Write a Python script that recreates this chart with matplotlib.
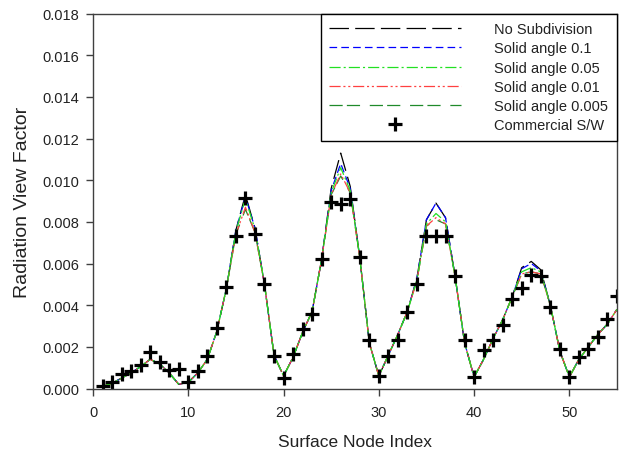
import matplotlib
matplotlib.use("Agg")
import matplotlib.pyplot as plt
from matplotlib.ticker import FormatStrFormatter, MultipleLocator

plt.rcParams['font.family'] = ['Liberation Sans', 'DejaVu Sans']
plt.rcParams['lines.scale_dashes'] = False

nodes = list(range(1, 56))

no_sub = [0.00010, 0.00025, 0.00050, 0.00075, 0.00105, 0.00140, 0.00118, 0.00075, 0.00020, 0.00030,
          0.00075, 0.00140, 0.00275, 0.00480, 0.00760, 0.00930, 0.00770, 0.00500, 0.00160, 0.00060,
          0.00150, 0.00270, 0.00370, 0.00620, 0.00960, 0.01130, 0.00970, 0.00630, 0.00220, 0.00060,
          0.00160, 0.00260, 0.00370, 0.00530, 0.00810, 0.00890, 0.00820, 0.00540, 0.00220, 0.00055,
          0.00140, 0.00240, 0.00330, 0.00440, 0.00580, 0.00610, 0.00570, 0.00400, 0.00180, 0.00055,
          0.00140, 0.00200, 0.00260, 0.00310, 0.00380]
sa_01 = [0.00010, 0.00025, 0.00050, 0.00075, 0.00105, 0.00140, 0.00118, 0.00075, 0.00020, 0.00030,
         0.00075, 0.00140, 0.00275, 0.00480, 0.00760, 0.00920, 0.00770, 0.00500, 0.00160, 0.00060,
         0.00150, 0.00270, 0.00370, 0.00620, 0.00950, 0.01080, 0.00960, 0.00630, 0.00220, 0.00060,
         0.00160, 0.00260, 0.00370, 0.00530, 0.00810, 0.00890, 0.00820, 0.00540, 0.00220, 0.00055,
         0.00140, 0.00240, 0.00330, 0.00440, 0.00575, 0.00600, 0.00565, 0.00400, 0.00180, 0.00055,
         0.00140, 0.00200, 0.00260, 0.00310, 0.00380]
sa_005 = [0.00010, 0.00025, 0.00050, 0.00075, 0.00105, 0.00140, 0.00118, 0.00075, 0.00020, 0.00030,
          0.00075, 0.00140, 0.00275, 0.00480, 0.00755, 0.00910, 0.00765, 0.00500, 0.00160, 0.00060,
          0.00150, 0.00270, 0.00370, 0.00620, 0.00940, 0.01060, 0.00950, 0.00630, 0.00220, 0.00060,
          0.00160, 0.00260, 0.00370, 0.00520, 0.00790, 0.00840, 0.00800, 0.00540, 0.00220, 0.00055,
          0.00140, 0.00240, 0.00330, 0.00440, 0.00560, 0.00580, 0.00560, 0.00400, 0.00180, 0.00055,
          0.00140, 0.00200, 0.00260, 0.00310, 0.00380]
sa_001 = [0.00010, 0.00025, 0.00050, 0.00075, 0.00105, 0.00140, 0.00118, 0.00075, 0.00020, 0.00030,
          0.00075, 0.00140, 0.00275, 0.00480, 0.00740, 0.00870, 0.00750, 0.00500, 0.00160, 0.00060,
          0.00150, 0.00270, 0.00370, 0.00620, 0.00930, 0.01030, 0.00940, 0.00630, 0.00220, 0.00060,
          0.00160, 0.00260, 0.00370, 0.00520, 0.00780, 0.00820, 0.00790, 0.00540, 0.00220, 0.00055,
          0.00140, 0.00240, 0.00330, 0.00440, 0.00550, 0.00560, 0.00550, 0.00400, 0.00180, 0.00055,
          0.00140, 0.00200, 0.00260, 0.00310, 0.00380]
sa_0005 = [0.00010, 0.00025, 0.00050, 0.00075, 0.00105, 0.00140, 0.00118, 0.00075, 0.00020, 0.00030,
           0.00075, 0.00140, 0.00275, 0.00480, 0.00740, 0.00860, 0.00750, 0.00500, 0.00160, 0.00060,
           0.00150, 0.00270, 0.00370, 0.00620, 0.00930, 0.01020, 0.00940, 0.00630, 0.00220, 0.00060,
           0.00160, 0.00260, 0.00370, 0.00520, 0.00780, 0.00810, 0.00790, 0.00540, 0.00220, 0.00055,
           0.00140, 0.00240, 0.00330, 0.00440, 0.00550, 0.00560, 0.00550, 0.00400, 0.00180, 0.00055,
           0.00140, 0.00200, 0.00260, 0.00310, 0.00380]
commercial = [0.00013, 0.00032, 0.00072, 0.00085, 0.00115, 0.00173, 0.00128, 0.00088, 0.00093, 0.00029,
              0.00085, 0.00155, 0.00291, 0.00488, 0.00733, 0.00915, 0.00740, 0.00500, 0.00157, 0.00051,
              0.00165, 0.00285, 0.00360, 0.00624, 0.00896, 0.00886, 0.00912, 0.00630, 0.00232, 0.00059,
              0.00157, 0.00235, 0.00368, 0.00500, 0.00733, 0.00733, 0.00733, 0.00539, 0.00232, 0.00056,
              0.00184, 0.00235, 0.00304, 0.00432, 0.00483, 0.00547, 0.00539, 0.00392, 0.00189, 0.00056,
              0.00149, 0.00192, 0.00248, 0.00333, 0.00445]

labels = ['No Subdivision', 'Solid angle 0.1', 'Solid angle 0.05',
          'Solid angle 0.01', 'Solid angle 0.005', 'Commercial S/W']

fig = plt.figure(figsize=(6.21, 4.52), dpi=100)
ax = fig.add_axes([93 / 621, 1 - 389.5 / 452, 524 / 621, 375 / 452])

lw = 0.9
# black drawn first so the coloured lines sit on top, as in the original
ax.plot(nodes, no_sub, color='black', lw=lw, dashes=(14, 4.5), label=labels[0])
ax.plot(nodes, sa_01, color='#0000ff', lw=lw, dashes=(5.5, 3), label=labels[1])
ax.plot(nodes, sa_0005, color='#1f8a2a', lw=lw, dashes=(9.5, 3, 9.5, 7), label=labels[4])
ax.plot(nodes, sa_001, color='#ff4040', lw=lw, dashes=(8, 2, 1.5, 2, 1.5, 2), label=labels[3])
ax.plot(nodes, sa_005, color='#22e022', lw=lw, dashes=(8, 2.2, 1.5, 2.2), label=labels[2])
ax.plot(nodes, commercial, linestyle='none', marker='+', color='black',
        markersize=9.5, markeredgewidth=2.3, label=labels[5])

ax.set_xlim(0, 55)
ax.set_ylim(0, 0.018)
ax.xaxis.set_major_locator(MultipleLocator(10))
ax.yaxis.set_major_locator(MultipleLocator(0.002))
ax.yaxis.set_major_formatter(FormatStrFormatter('%.3f'))

for s in ax.spines.values():
    s.set_color('#404040')
    s.set_linewidth(1.0)
ax.tick_params(direction='out', length=5, width=1, color='#404040',
               labelsize=10.5, labelcolor='#222222', pad=5)
ax.tick_params(axis='x', pad=7)

ax.set_xlabel('Surface Node Index', fontsize=12.5, color='#222222', labelpad=11)
ax.set_ylabel('Radiation View Factor', fontsize=14, color='#222222', labelpad=8)

# legend in the same order as the original
handles, labs = ax.get_legend_handles_labels()
order = [labs.index(l) for l in labels]
handles = [handles[i] for i in order]
labs = [labs[i] for i in order]
leg = ax.legend(handles, labs, loc='upper right', bbox_to_anchor=(1.0, 1.0),
                borderaxespad=0, fontsize=10.5, handlelength=9.0, handletextpad=2.3,
                labelspacing=0.36, borderpad=0.6, numpoints=1,
                fancybox=False, framealpha=1, edgecolor='black')
leg.get_frame().set_linewidth(1.0)
for t in leg.get_texts():
    t.set_color('#222222')

fig.savefig('out.png', dpi=100)
